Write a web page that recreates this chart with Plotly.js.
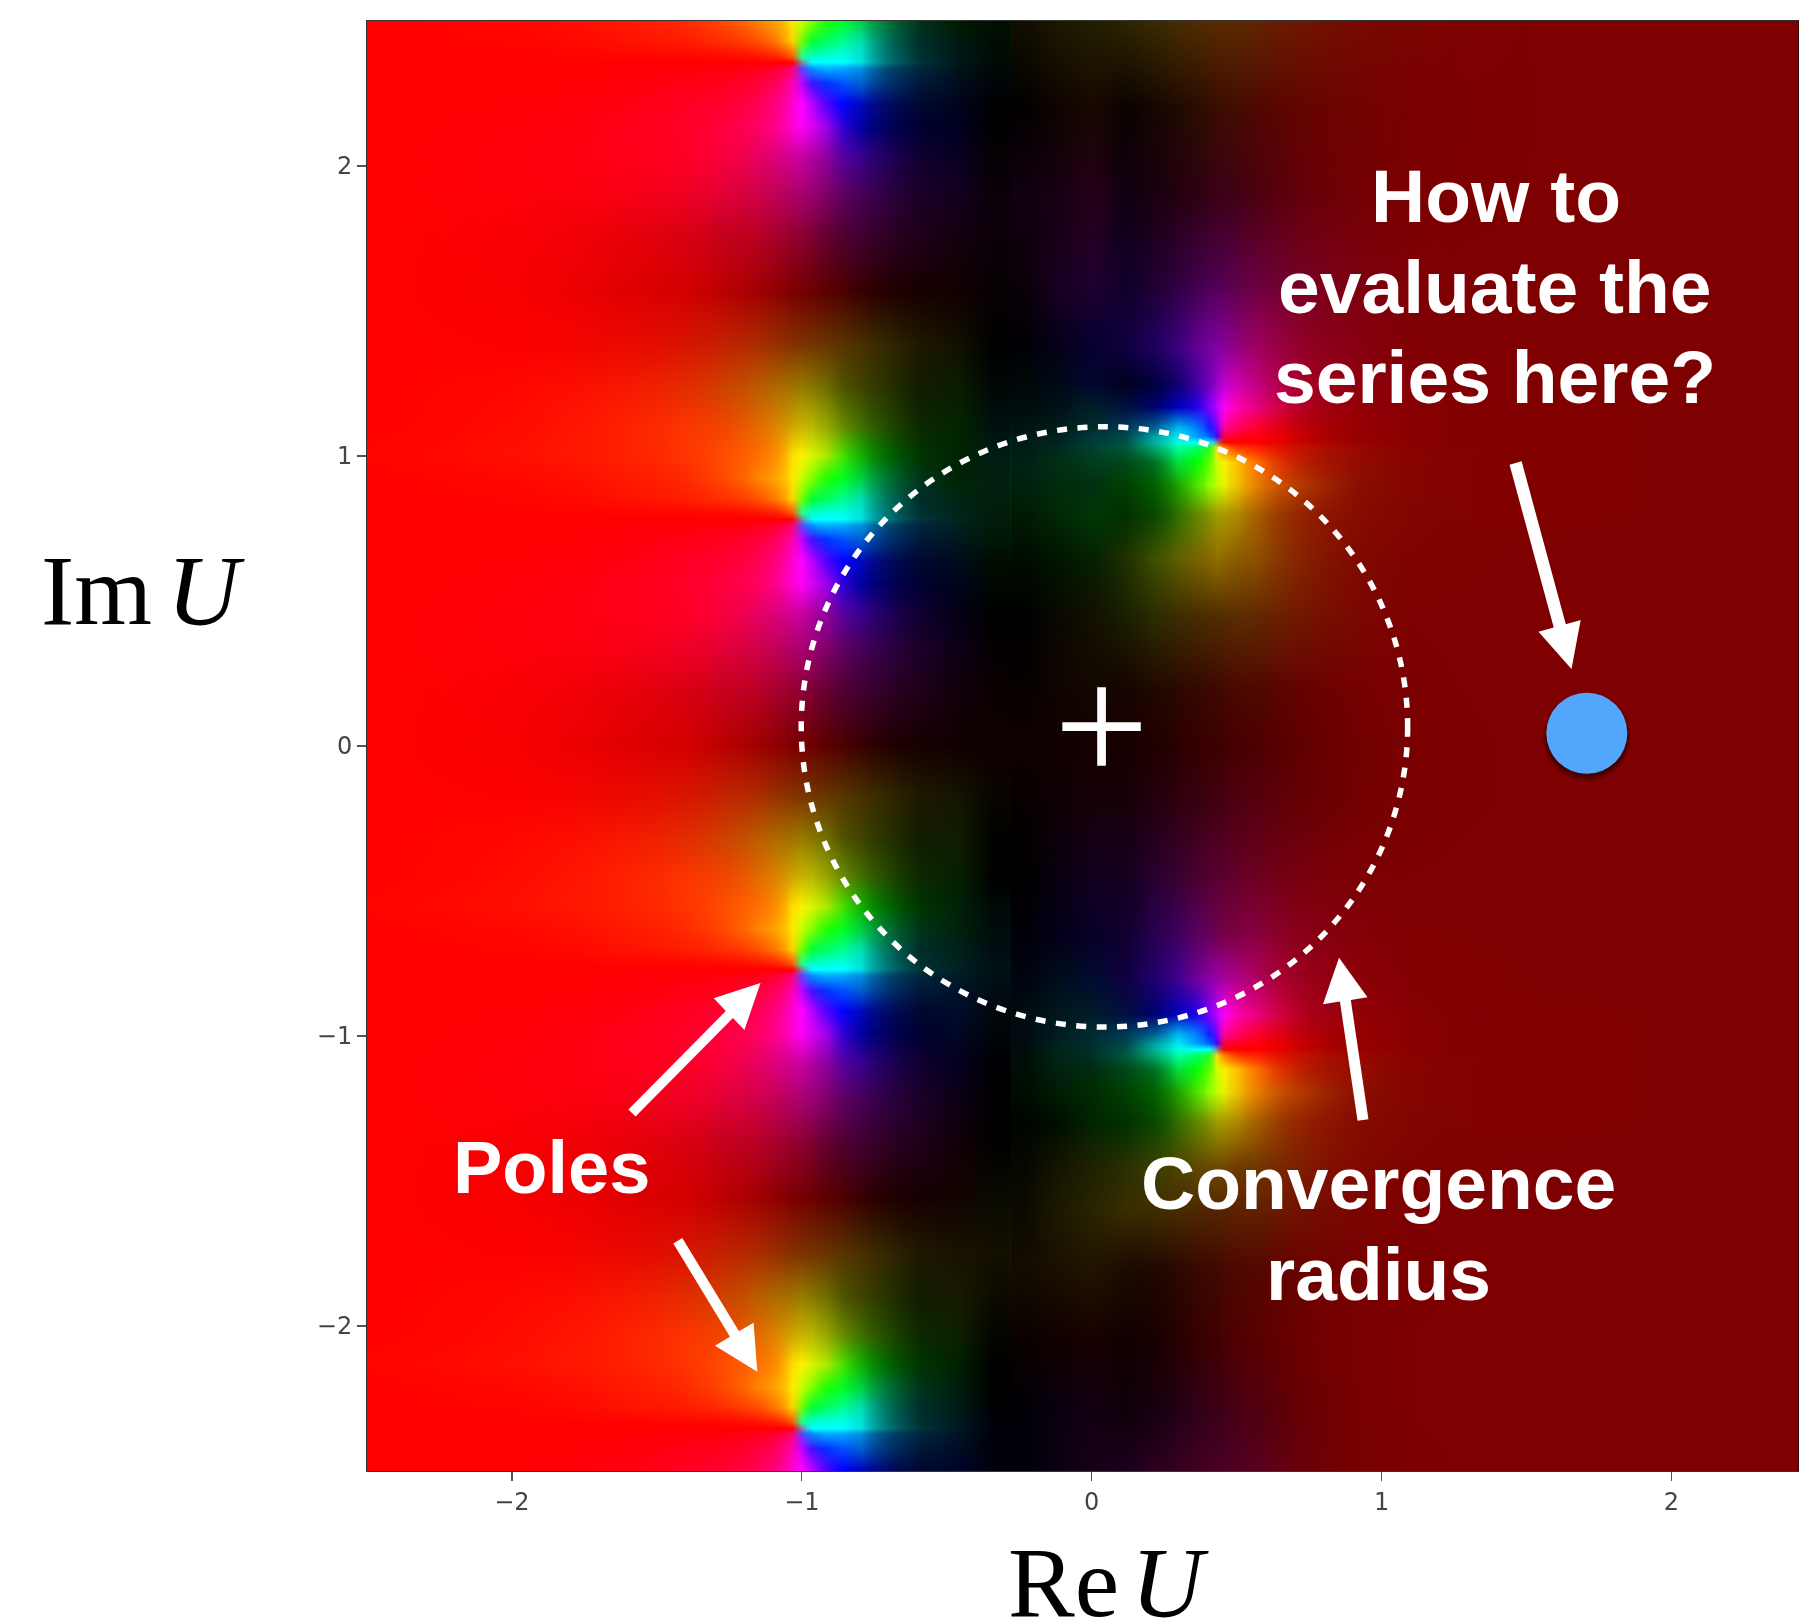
<!DOCTYPE html>
<html><head><meta charset="utf-8">
<script src="https://cdn.plot.ly/plotly-3.0.1.min.js"></script>
<style>
html,body{margin:0;padding:0;background:#fff}
#chart{width:1799px;height:1619px}
.hm image{mix-blend-mode:screen}
</style></head><body><div id="chart"></div>
<script>
// ---- colours, left part (one period around a left-hand pole) ----
const leftXEdges=[-2.8,-2.2,-1.75,-1.5,-1.325,-1.2,-1.115,-1.055,-1.015,-.985,-.945,-.89,-.83,-.76,-.66,-.525,-.4,-.28];
const Lm78="ff0000 f60000 e00000 d40000 b80000 a00000 8c0000 7c0000 740000 6c0000 5c0000 4c0000 380000 240000 160000";
const Lp60="ff0000 fc0000 ec0800 d81400 c02400 ac2c00 943000 843200 7c3400 743400 683400 583400 483000 342800 1e1800";
const Lp45="ff0000 ff0800 f81800 e42c00 cc4400 bc5c00 ac6c00 a07400 987c00 887800 707000 505400 404400 283400 101c00";
const Lp32="ff0000 ff0c00 ff2000 fc3400 f04800 e46800 dc8800 d0a400 c8b400 b8b800 98a800 688c00 407000 244c00 0c2800";
const Lp22="ff0400 ff1000 ff2000 ff3400 ff5000 ff6c00 ff9000 ffdc00 fff000 d8f400 b0e800 48e000 10b000 006c00 003400";
const Lp14="ff0000 ff0800 ff1800 ff2800 ff4c00 ff8000 ffa800 ffe800 c8ff00 80ff00 20ff00 00ff20 00d040 007838 003418";
const Lp07="ff0000 ff0400 ff1000 ff1c00 ff3000 ff4c00 ff8000 ffd000 70ff00 00ff30 00ff60 00ff90 00e0b0 007860 002e2a";
const Lp02="ff0000 ff0000 ff0400 ff0400 ff0800 ff1000 ff2000 ff5000 20ff90 00ffd0 00ffe0 00ffe8 00e0d8 007878 003030";
const Lp00="ff0000 ff0000 ff0000 ff0000 ff0000 ff0000 ff0000 ff0000 8080a0 00ffff 00ffff 00ffff 00e0e0 007c7c 003438";
const Lm02="ff0000 ff0000 ff0004 ff0008 ff000c ff0018 ff0030 ff0070 6040ff 0090ff 00b0ff 00a8ff 0090e0 004c78 00243c";
const Lm07="ff0000 ff0000 ff0008 ff0014 ff0020 ff0038 ff0060 ff00b0 c000ff 4010ff 0030ff 0050ff 0060d0 003478 001838";
const Lm14="ff0000 ff0004 ff0010 ff0020 ff0034 ff0050 ff0084 ff00d0 ff00ff b800ff 5000ff 0004ff 0008c0 000c68 000830";
const Lm22="ff0000 ff0008 ff0018 ff0028 ff0040 ff0060 ff0090 ff00d8 ff00f8 d800f4 a000ec 3000d8 0000a0 000060 000030";
const Lm32="ff0000 ff000c ff0018 ff0024 f80040 e80060 dc0080 d00098 c800a0 b000a0 9000a0 5800a0 380090 200060 0e0030";
const Lm45="ff0000 fc0008 f80014 f00024 e00038 d00048 c00058 b00068 a80070 980070 800068 600060 480058 300044 1c0028";
const Lm60="ff0000 f80004 e80008 d80010 c4001c b80024 a4002c 94002c 8c0030 7c0030 640030 500030 400030 300024 1e0018";
const leftY=[2.5,2.43,2.377,2.357,2.337,2.287,2.217,2.137,2.037,1.907,1.757,1.57,
 1.383,1.233,1.103,1.003,.923,.853,.803,.783,.763,.713,.643,.563,.463,.333,.183,.005,
 -.17,-.32,-.45,-.55,-.63,-.70,-.75,-.77,-.79,-.84,-.91,-.99,-1.09,-1.22,-1.37,-1.56,
 -1.75,-1.90,-2.03,-2.13,-2.21,-2.28,-2.33,-2.35,-2.37,-2.42,-2.49];
const leftRows=[Lp14,Lp07,Lp02,Lp00,Lm02,Lm07,Lm14,Lm22,Lm32,Lm45,Lm60,Lm78,
 Lp60,Lp45,Lp32,Lp22,Lp14,Lp07,Lp02,Lp00,Lm02,Lm07,Lm14,Lm22,Lm32,Lm45,Lm60,Lm78,
 Lp60,Lp45,Lp32,Lp22,Lp14,Lp07,Lp02,Lp00,Lm02,Lm07,Lm14,Lm22,Lm32,Lm45,Lm60,Lm78,
 Lp60,Lp45,Lp32,Lp22,Lp14,Lp07,Lp02,Lp00,Lm02,Lm07,Lm14];
// the two darkest columns differ from period to period, so they are read row by row
const leftColA=["001a00","001a10","001814","00181a","001418","000c1c","00041c","000020","080020","120020","14000e","120000",
 "101000","0a1c00","002400","002200","002204","002410","002418","00241c","00201c","00181c","000c1c","00041a","040014","0c0014","10000a","100000",
 "141400","101c00","042000","002008","00200c","00201a","002020","002024","001c24","001428","000c28","000824","04001c","0c0014","100006","120400",
 "181200","181a00","0c2000","002000","001c0c","001c14","001820","001824","001424","000c24","000428"];
const leftColB=["001000","000c04","000a04","000a04","000806","000408","000000","000000","060004","0a0008","0a0008","060004",
 "000000","000606","001010","001c14","002010","001e0c","001c08","001c08","001a08","001806","000c00","000800","000000","040000","0a0000","0e0000",
 "080400","000200","000000","000808","000c0c","000c10","001014","001014","001014","000c14","00080c","000408","000004","000000","020000","0a0a00",
 "141000","0c0a00","040400","000000","000000","000004","000008","000008","000008","00000a","00000c"];

// ---- colours, right part ----
const rightXEdges=[-.28,-.18,-.06,.06,.17,.26,.33,.385,.42,.44,.475,.53,.605,.7,.825,1,1.25,1.9,3.0];
const r250="2c2400 3a2a00 482c00 502c00 562a00 582a00 5a2a00 5c2800 622400 6a1c00 701400 760a00 7a0400 7e0000 7f0000";
const r220="0a0200 160600 200a00 2a0c00 340c00 3a0c00 3e0c00 440c00 4e0800 5a0600 660400 700200 780000 7e0000 7f0000";
const r190="0e0010 1a0010 260010 2e0010 360014 3a0018 3c0018 420014 4c0010 5a000c 680008 720004 7a0000 7e0000 7f0000";
const r160="100028 200030 300040 400048 4c0050 500050 540050 5e0048 680040 700030 780020 7c0010 7e0004 7f0000 7f0000";
const r138="100040 200060 3c0080 600090 7800a0 8000a0 88009a 900080 a00060 980040 900020 880010 800004 7f0000 7f0000";
const r125="000020 000040 100070 4000a0 7000b8 a000c8 c000d0 d000b0 c00080 b00048 a00020 900010 840004 7f0000 7f0000";
const r117="001040 000070 0000c0 2000e8 8000ff c000ff ff00f8 ff00b0 e80080 d00040 a80018 940008 860002 800000 7f0000";
const r110="003858 006090 00b8f0 0080ff 1020ff 8000ff ff00a0 ff0060 ff0030 e00010 b00008 980002 880000 800000 7f0000";
const r107="004848 00a0a0 00e8f0 00a0ff 0060ff 4000ff ff0040 ff0020 ff0010 e80000 b80000 980000 880000 800000 7f0000";
const r105="005048 00b0a0 00ffe0 00ffff 00ffff 8080a0 ff0000 ff0000 ff0000 e80000 b80400 980200 880000 800000 7f0000";
const r103="00583c 00a870 00ffa0 00ff60 20ff20 ffe000 ff8000 ff3800 ff2000 e01000 b81000 980800 880200 800000 7f0000";
const r098="004818 007020 00e040 00ff00 60ff00 d0ff00 f8f000 ffc000 ff7000 e03000 b01800 940c00 860400 800000 7f0000";
const r090="004000 006000 20a000 50e000 90ff00 c0ff00 e8f000 f0c000 e88000 c85000 a83000 8c1000 840400 800000 7f0000";
const r080="003000 084800 307000 608800 889400 a09c00 a89800 b08800 a86000 983800 901c00 860c00 820400 800000 7f0000";
const r065="203000 405000 606000 786400 886800 907000 906800 8c5c00 8c5000 883400 841c00 800a00 7e0200 7f0000 7f0000";
const r045="182000 2c2c00 3c2c00 462c00 4e2c00 502c00 542c00 5a2c00 602800 6c2000 741400 7a0800 7e0000 7f0000 7f0000";
const r020="160400 200800 2c0800 340800 3c0800 3e0800 440800 4a0800 500800 5c0400 680200 740000 7c0000 7f0000 7f0000";
const r000="180000 200000 2c0000 340000 3a0000 3c0000 400000 480000 4c0000 580000 640000 700000 7a0000 7f0000 7f0000";
const rm020="160008 240010 300010 380010 400010 420010 480010 500010 560010 600008 680004 720000 7a0000 7f0000 7f0000";
const rm045="140020 280030 3a0030 4a0030 560030 580030 5c0030 640028 6c0020 720014 78000a 7c0004 7e0000 7f0000 7f0000";
const rm065="100030 280050 400060 580060 680058 700050 780048 800044 880040 8c0028 880014 840008 800000 7f0000 7f0000";
const rm080="100040 200070 400090 700098 8c00a4 9800a8 a40098 b00088 b00060 a80030 980018 8c0008 820000 7f0000 7f0000";
const rm144="283000 384000 504400 604800 684c00 6c4c00 704800 703c00 703800 782800 801800 800a00 7e0200 7f0000 7f0000";
const rm160="3a2c00 402c00 482c00 4e2800 522400 542400 582400 5c2200 602000 6c1800 740e00 7a0600 7e0000 7f0000 7f0000";
const rm180="1c0a00 200800 2c0800 380800 3e0800 400800 480800 4e0800 540800 600400 6c0200 760000 7c0000 7f0000 7f0000";
const rm205="100000 180000 280000 340000 3c0000 400000 480000 500000 580000 640000 700000 780000 7e0000 7f0000 7f0000";
const rm230="0e000a 180010 240018 300018 380018 3a0018 400018 480014 500010 5c0008 6a0004 760000 7e0000 7f0000 7f0000";
const rm250="1c001c 2c0020 380020 400020 460024 480024 4c0024 500024 580020 620014 6c0008 760000 7c0000 7f0000 7f0000";
const rightY=[2.5,2.2,1.9,1.6,1.38,1.25,1.17,1.1,1.07,1.05,1.03,.98,.9,.8,.65,.45,.2,0,-.2,-.45,-.65,-.8,-.924,-.994,-1.024,-1.044,-1.064,-1.114,-1.194,-1.294,-1.444,-1.6,-1.8,-2.05,-2.3,-2.5];
const rightRows=[r250,r220,r190,r160,r138,r125,r117,r110,r107,r105,r103,r098,r090,r080,r065,r045,r020,r000,rm020,rm045,rm065,rm080,r117,r110,r107,r105,r103,r098,r090,r080,rm144,rm160,rm180,rm205,rm230,rm250];
// the three darkest columns of the right part, read row by row
const rightColA=["120e00","020000","100010","0a0008","000004","000808","000c0c","001412","00181a","001c18","001c14","002014","00200c","001a04","000c00","000000","060000","0e0000",
 "060000","000000","000008","00040e","000c10","000c10","000c0c","000c0a","000e08","000e04","000c00","000400","060800","0c0a00","140c00","0a0000","000006","000008"];
const rightColB=["1c1800","0e0400","160012","180020","060018","000818","001018","001c18","002020","002420","002a1c","002e14","002c0c","002804","001600","0a0800","100400","100000",
 "0e0004","080010","020018","000c1c","00181c","001c20","002020","002418","002418","002010","001c04","000e00","141400","1c1800","1a1000","100000","08000e","0c0012"];
const rightColC=["221e00","180800","280018","200030","060030","000830","002028","002c2a","003838","003c38","004030","003c20","003010","003804","042000","141000","120800","140000",
 "160008","120020","080028","000c30","001c28","002c30","003030","003030","003028","002c10","002c00","002400","1e2200","282400","201400","180000","120012","180018"];

// ---- axes and annotations ----
const tickVals=[-2,-1,0,1,2];
const xRange=[-2.5,2.44], yRange=[-2.5,2.5];
const circleX=[-1.002,1.09], circleY=[-.969,1.101];
const centreMark=[.034,.067];
const queryPoint=[1.708,.044];
const labels=[
 ["How to",1496,196,75],["evaluate the",1495,287,75],["series here?",1495,377,75],
 ["Poles",551,1167,74],["Convergence",1378,1183,75],["radius",1378,1274,75]];
// arrows in page pixels: tail, tip, head corner a, head corner b, shaft width
const arrows=[
 [[1515.6,463],[1571.5,669],[1538.5,631.7],[1580.7,620],12.5],
 [[1363,1120],[1339,957.7],[1323,1004.3],[1367.5,997.3],11],
 [[632,1113],[760.5,983],[713.7,998.3],[744.4,1030],10],
 [[677.8,1240.7],[757.3,1371.7],[753.6,1322.7],[715,1345.7],10.5]];

const L=367,T=21,W=1432,H=1450;
const fx=p=>(p-L)/W, fy=p=>1-(p-T)/H;               // page pixel -> paper fraction
function hm(x,y,rows){
  const asc=y.slice().reverse(), table=rows.slice().reverse().map(r=>r.split(" ")), cols=['#ff0000','#00ff00','#0000ff'];
  return [0,2,4].map((o,i)=>({type:'heatmap',x:x,y:asc,z:table.map(r=>r.map(h=>parseInt(h.substr(o,2),16))),zmin:0,zmax:255,zsmooth:'best',showscale:false,hoverinfo:'skip',
    colorscale:[[0,'#000000'],[1,cols[i]]]}));
}
const leftFull=leftRows.map((r,i)=>r+" "+leftColA[i]+" "+leftColB[i]);
const rightFull=rightRows.map((r,i)=>rightColA[i]+" "+rightColB[i]+" "+rightColC[i]+" "+r);
const traces=[...hm(leftXEdges,leftY,leftFull),...hm(rightXEdges,rightY,rightFull),
 {type:'scatter',mode:'markers',x:[centreMark[0]],y:[centreMark[1]],hoverinfo:'skip',
  marker:{symbol:'cross-thin',size:56,line:{color:'#fff',width:8.7}}}
];
function arrowPath(a){
  const [t,h,c1,c2,w]=a, dx=h[0]-t[0], dy=h[1]-t[1], n=Math.hypot(dx,dy), ux=-dy/n*w/2, uy=dx/n*w/2;
  const k=((c1[0]+c2[0])/2-t[0])*dx/n/n+((c1[1]+c2[1])/2-t[1])*dy/n/n;
  const b=[t[0]+dx*k,t[1]+dy*k];
  const s=(c1[0]-b[0])*ux+(c1[1]-b[1])*uy>0?1:-1;
  const pts=[[t[0]+s*ux,t[1]+s*uy],[b[0]+s*ux,b[1]+s*uy],c1,h,c2,[b[0]-s*ux,b[1]-s*uy],[t[0]-s*ux,t[1]-s*uy]];
  return 'M'+pts.map(p=>fx(p[0]).toFixed(5)+','+fy(p[1]).toFixed(5)).join(' L')+' Z';
}
const dotShadow=[[45,4,.06],[43.5,4,.1],[42,4,.14],[41,3.5,.2]].map(s=>({type:'circle',xref:'x',yref:'y',layer:'above',
  x0:queryPoint[0]-s[0]/289.9,x1:queryPoint[0]+s[0]/289.9,y0:queryPoint[1]-(s[0]+s[1])/289.9,y1:queryPoint[1]+(s[0]-s[1])/289.9,
  fillcolor:'rgba(0,0,0,'+s[2]+')',line:{width:0}}));
const shapes=[
 {type:'circle',xref:'x',yref:'y',layer:'above',x0:circleX[0],x1:circleX[1],y0:circleY[0],y1:circleY[1],
  line:{color:'#fff',width:5.5,dash:'10px,10.5px'}},
 ...dotShadow,
 {type:'circle',xref:'x',yref:'y',layer:'above',x0:queryPoint[0]-40.5/289.9,x1:queryPoint[0]+40.5/289.9,y0:queryPoint[1]-40.5/289.9,y1:queryPoint[1]+40.5/289.9,
  fillcolor:'#52a6fb',line:{width:0}},
 ...arrows.map(a=>({type:'path',xref:'paper',yref:'paper',layer:'above',path:arrowPath(a),fillcolor:'#fff',line:{width:0}}))
];
const mathFont={family:'"Liberation Serif",serif',size:100,color:'#000'};
const annotations=[
 ...labels.map(l=>({xref:'paper',yref:'paper',x:fx(l[1]),y:fy(l[2]),xanchor:'center',yanchor:'middle',showarrow:false,
   text:'<b>'+l[0]+'</b>',font:{family:'"Liberation Sans",Arial,sans-serif',size:l[3],color:'#fff'}})),
 {xref:'paper',yref:'paper',x:fx(39),y:fy(590),xanchor:'left',yanchor:'middle',showarrow:false,text:'Im',font:mathFont},
 {xref:'paper',yref:'paper',x:fx(247),y:fy(590),xanchor:'right',yanchor:'middle',showarrow:false,text:'<i>U</i>',font:mathFont},
 {xref:'paper',yref:'paper',x:fx(1006),y:fy(1582),xanchor:'left',yanchor:'middle',showarrow:false,text:'Re',font:mathFont},
 {xref:'paper',yref:'paper',x:fx(1211),y:fy(1582),xanchor:'right',yanchor:'middle',showarrow:false,text:'<i>U</i>',font:mathFont}
];
const axisBase={tickmode:'array',tickvals:tickVals,ticks:'outside',ticklen:9,tickwidth:1.2,tickcolor:'#555',showgrid:false,zeroline:false,
  showline:true,linecolor:'#333',linewidth:1,mirror:true,tickfont:{family:'"DejaVu Sans",sans-serif',size:24,color:'#444'}};
Plotly.newPlot('chart',traces,{
  width:1799,height:1619,margin:{l:L,r:0,t:T,b:1619-T-H,pad:0},paper_bgcolor:'#fff',plot_bgcolor:'#000',showlegend:false,
  xaxis:Object.assign({},axisBase,{range:xRange,type:'linear',autorange:false}),
  yaxis:Object.assign({},axisBase,{range:yRange,type:'linear',autorange:false}),
  shapes:shapes,annotations:annotations
},{displayModeBar:false,staticPlot:true});
</script></body></html>
